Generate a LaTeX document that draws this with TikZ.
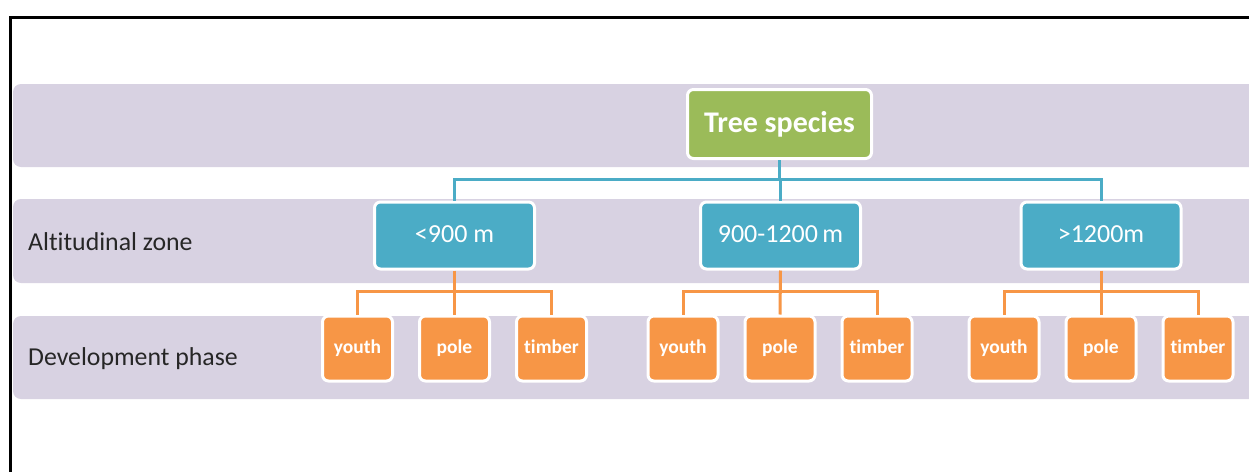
\documentclass[tikz,border=0pt]{standalone}
\usepackage{fontspec}
\setmainfont[Ligatures={NoCommon}]{Carlito}
\usetikzlibrary{calc}
\definecolor{bandfill}{RGB}{216,210,226}
\definecolor{leafgreen}{RGB}{155,187,89}
\definecolor{zoneblue}{RGB}{75,172,198}
\definecolor{phaseorange}{RGB}{247,150,70}
\definecolor{labeltext}{RGB}{38,38,38}
\tikzset{
  band/.style={fill=bandfill, rounded corners=8pt},
  rowlabel/.style={anchor=west, text=labeltext, inner sep=0pt,
    font=\fontsize{25.8}{28}\selectfont},
  box/.style={draw=white, line width=3pt, rounded corners=6pt, inner sep=0pt,
    text=white},
  rootbox/.style={box, fill=leafgreen, minimum width=184pt, minimum height=69pt,
    font=\bfseries\fontsize{30}{34}\selectfont},
  zonebox/.style={box, fill=zoneblue, minimum width=160pt, minimum height=67pt,
    text height=17pt, text depth=4pt,
    font=\fontsize{26}{30}\selectfont},
  phasebox/.style={box, fill=phaseorange, minimum width=70pt, minimum height=65pt,
    text height=13pt, text depth=4pt,
    font=\bfseries\fontsize{19.5}{22}\selectfont},
  blueline/.style={draw=zoneblue, line width=3pt},
  orangeline/.style={draw=phaseorange, line width=3pt},
}
\begin{document}
\begin{tikzpicture}[x=1pt,y=-1pt]
  \path[use as bounding box] (0,0) rectangle (1249,471);
  \clip (0,0) rectangle (1249,471);
  \fill[white] (0,0) rectangle (1249,471);

  % frame
  \draw[line width=3pt, black] (10.5,480) -- (10.5,17) -- (1260,17);

  % background bands
  \path[band] (13,84) rectangle (1275,167);
  \path[band] (13,199) rectangle (1275,283);
  \path[band] (13,316) rectangle (1275,399);

  % row labels
  \node[rowlabel] (lzone) at (28,242) {Altitudinal zone};
  \node[rowlabel] (lphase) at (28,359) {Development phase};

  % hierarchy
  \node[rootbox] (ts) at (779.5,124) {Tree species};

  \node[zonebox] (z1) at (454.5,235.5) {<900 m};
  \node[zonebox] (z2) at (780.5,235.5) {900-1200\,m};
  \node[zonebox] (z3) at (1101,235.5) {>1200m};

  \foreach \g/\cx in {1/454.5, 2/780, 3/1101}{
    \node[phasebox] (y\g) at (\cx-97,348.5) {youth};
    \node[phasebox] (p\g) at (\cx,348.5) {pole};
    \node[phasebox] (t\g) at (\cx+97,348.5) {timber};
  }

  % connectors
  \coordinate (bbus) at (0,179);
  \coordinate (obus) at (0,291);
  \draw[blueline] (ts.south) -- (ts.south |- bbus);
  \draw[blueline] (z1.north) -- (z1.north |- bbus) -- (z3.north |- bbus) -- (z3.north);
  \draw[blueline] (z2.north) -- (z2.north |- bbus);

  \foreach \g in {1,2,3}{
    \draw[orangeline] (z\g.south) -- (p\g.north);
    \draw[orangeline] (y\g.north) -- (y\g.north |- obus) -- (t\g.north |- obus) -- (t\g.north);
  }
\end{tikzpicture}
\end{document}
